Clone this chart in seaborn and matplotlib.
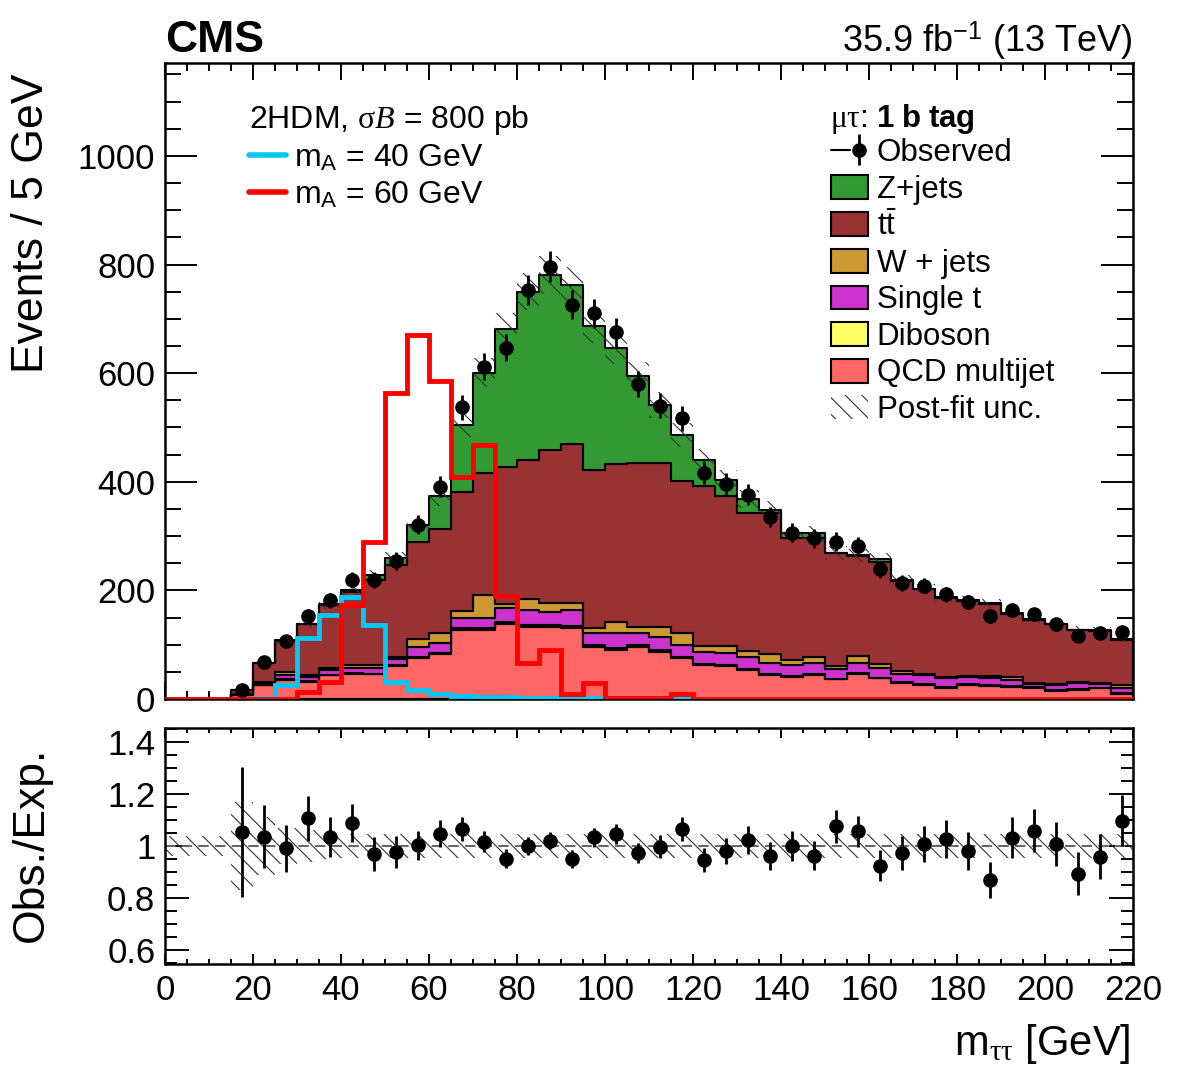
import numpy as np
import pandas as pd
import seaborn as sns
import matplotlib.pyplot as plt
import matplotlib.ticker as ticker
from matplotlib.patches import Patch
from matplotlib.lines import Line2D
from matplotlib.legend_handler import HandlerTuple

# m_tautau binning, 5 GeV bins from 0 to 220
edges = np.arange(0, 225, 5)
centers = edges[:-1] + 2.5

# post-fit backgrounds (events / 5 GeV)
qcd = [0, 0, 0, 8, 25, 35, 32, 44, 47, 46, 60, 75, 83, 127, 128, 138, 133, 133, 130, 96, 91, 96,
       87, 75, 63, 61, 53, 44, 40, 44, 36, 47, 38, 30, 26, 21, 26, 24, 23, 21, 15, 17, 20, 10]
diboson = [0, 0, 0, 0, 1, 1, 1, 1, 1, 1, 2, 2, 2, 3, 3, 4, 4, 4, 4, 3, 3, 3,
           3, 2, 2, 2, 2, 2, 2, 2, 1, 1, 1, 1, 1, 1, 1, 1, 1, 1, 1, 1, 1, 1]
single_t = [0, 0, 0, 1, 3, 9, 7, 9, 10, 11, 11, 19, 19, 20, 19, 25, 27, 24, 30, 22, 27, 23,
            24, 22, 22, 21, 22, 20, 21, 20, 18, 18, 19, 16, 17, 17, 13, 13, 11, 6, 10, 11, 7, 10]
wjets = [0, 0, 0, 1, 3, 5, 5, 4, 5, 5, 5, 14, 17, 13, 42, 8, 20, 16, 13, 9, 20, 11,
         19, 22, 11, 14, 12, 17, 8, 11, 6, 13, 6, 5, 2, 1, 2, 4, 5, 2, 2, 3, 2, 5]
ttbar = [0, 0, 0, 6, 34, 57, 93, 115, 135, 156, 169, 179, 192, 219, 225, 253, 256, 282, 292, 292, 291, 302,
         302, 281, 294, 275, 254, 259, 225, 220, 208, 185, 188, 166, 156, 146, 139, 133, 117, 116, 110, 95, 96, 83]
zjets = [0, 0, 0, 0, 0, 1, 1, 2, 3, 9, 12, 31, 60, 123, 184, 253, 310, 322, 293, 264, 214, 159,
         106, 84, 48, 30, 25, 7, 9, 8, 0, 1, 6, 1, 1, 1, 1, 1, 1, 1, 1, 1, 1, 1]

# relative post-fit uncertainty
rel_unc = [0.04, 0.04, 0.04, 0.17, 0.11, 0.07, 0.06, 0.05, 0.045, 0.045, 0.045, 0.045, 0.045, 0.045,
           0.045, 0.045, 0.045, 0.045, 0.045, 0.045, 0.045, 0.045, 0.045, 0.045, 0.045, 0.045, 0.045, 0.045,
           0.045, 0.045, 0.045, 0.045, 0.045, 0.045, 0.045, 0.045, 0.045, 0.045, 0.045, 0.045, 0.045, 0.045,
           0.045, 0.045]

# observed
observed = [0, 0, 0, 17, 68, 107, 153, 182, 219, 220, 254, 321, 391, 537, 612, 647, 753, 796, 726, 710, 675, 580,
            540, 517, 417, 396, 376, 336, 306, 296, 290, 282, 239, 214, 209, 193, 179, 153, 164, 156, 138, 116, 121, 124]

# obs / exp
ratio = [np.nan, np.nan, np.nan, 1.053, 1.036, 0.991, 1.107, 1.036, 1.090, 0.969, 0.977, 1.003, 1.047, 1.065,
         1.017, 0.951, 1.0, 1.021, 0.951, 1.034, 1.047, 0.974, 0.997, 1.065, 0.946, 0.981, 1.023, 0.961,
         1.001, 0.963, 1.075, 1.056, 0.924, 0.974, 1.008, 1.028, 0.982, 0.868, 1.032, 1.059, 1.008, 0.894,
         0.959, 1.098]
ratio_err = [np.nan, np.nan, np.nan, 0.25, 0.12, 0.09, 0.087, 0.077, 0.073, 0.066, 0.06, 0.056, 0.052, 0.045,
             0.04, 0.037, 0.036, 0.034, 0.035, 0.036, 0.039, 0.039, 0.045, 0.047, 0.047, 0.05, 0.053, 0.053,
             0.057, 0.056, 0.062, 0.061, 0.06, 0.066, 0.07, 0.073, 0.073, 0.07, 0.08, 0.084, 0.086, 0.082,
             0.086, 0.097]

# 2HDM signals
sig_m40 = [0, 0, 0, 0, 2, 26, 112, 155, 187, 136, 32, 17, 9, 6, 4, 3, 2, 2, 1, 1, 1, 1, 1, 1]
sig_m60 = [0, 0, 0, 0, 0, 0, 13, 32, 173, 290, 563, 670, 586, 409, 468, 190, 66, 91, 9, 29, 1, 1,
           1, 10, 0, 0, 0, 0, 0, 0, 0, 0, 0, 0, 0, 0, 0, 0, 0, 0, 0, 0, 0, 0]

processes = ["Z+jets", r"t$\bar{\mathrm{t}}$", "W + jets", "Single t", "Diboson", "QCD multijet"]
colors = ["#339933", "#993333", "#cc9933", "#cc33cc", "#ffff66", "#ff6666"]

sns.set_style("ticks", {"xtick.direction": "in", "ytick.direction": "in"})
plt.rcParams['font.family'] = ['Liberation Sans', 'DejaVu Sans']
plt.rcParams['mathtext.fontset'] = 'custom'
plt.rcParams['mathtext.rm'] = 'Liberation Sans'
plt.rcParams['mathtext.sf'] = 'Liberation Serif'
plt.rcParams['mathtext.it'] = 'Liberation Serif:italic'
plt.rcParams['mathtext.bf'] = 'Liberation Sans:bold'
plt.rcParams['hatch.color'] = '#333333'
plt.rcParams['hatch.linewidth'] = 0.8
plt.rcParams['axes.linewidth'] = 1.8
for key in ['text.color', 'axes.labelcolor', 'xtick.color', 'ytick.color', 'axes.edgecolor']:
    plt.rcParams[key] = 'black'

df = pd.DataFrame({
    "mass": np.tile(centers, len(processes)),
    "events": np.concatenate([zjets, ttbar, wjets, single_t, diboson, qcd]).astype(float),
    "process": np.repeat(processes, len(centers)),
})
total = np.array(zjets) + np.array(ttbar) + np.array(wjets) + np.array(single_t) + np.array(diboson) + np.array(qcd)
rel_unc = np.array(rel_unc)
observed = np.array(observed, dtype=float)

fig = plt.figure(figsize=(11.82, 10.71), dpi=100)
ax = fig.add_axes([0.1396, 0.3473, 0.8189, 0.5938])
rax = fig.add_axes([0.1396, 0.0999, 0.8189, 0.2204])

sns.histplot(data=df, x="mass", weights="events", hue="process", hue_order=processes,
             palette=dict(zip(processes, colors)), multiple="stack", binwidth=5, binrange=(0, 220),
             element="step", fill=True, alpha=1, edgecolor="black", linewidth=1.5,
             legend=False, ax=ax)

hatch = '\\\\'
ax.stairs(total * (1 + rel_unc), edges, baseline=total * (1 - rel_unc), fill=True,
          facecolor='none', edgecolor='#333333', linewidth=0, hatch=hatch, zorder=3)

ax.stairs(sig_m40, edges[:len(sig_m40) + 1], color="#00c8f5", linewidth=3.5, zorder=4)
ax.stairs(sig_m60, edges, color="#ff0000", linewidth=3.5, zorder=5)

m = observed > 0
eb = ax.errorbar(centers[m], observed[m], yerr=np.sqrt(observed[m]), fmt='o', color='black',
                 ms=9.5, elinewidth=2, capsize=0, zorder=6)

ax.set_xlim(0, 220)
ax.set_ylim(0, 1171)
ax.set_xlabel("")
ax.set_ylabel("Events / 5 GeV", fontsize=32, loc='top', va='baseline')
ax.yaxis.set_label_coords(-0.126, 0.984)
ax.xaxis.set_major_locator(ticker.MultipleLocator(20))
ax.xaxis.set_minor_locator(ticker.MultipleLocator(5))
ax.yaxis.set_major_locator(ticker.MultipleLocator(200))
ax.yaxis.set_minor_locator(ticker.MultipleLocator(50))
ax.tick_params(which='both', direction='in', top=True, right=True, labelbottom=False,
               labelsize=25, width=1.4, pad=7)
ax.tick_params(axis='x', which='major', length=12)
ax.tick_params(axis='x', which='minor', length=6)
ax.tick_params(axis='y', which='major', length=23)
ax.tick_params(axis='y', which='minor', length=11.5)

# ratio panel
rax.stairs(1 + rel_unc, edges, baseline=1 - rel_unc, fill=True, facecolor='none',
           edgecolor='#333333', linewidth=0, hatch=hatch)
rax.axhline(1, color='#666666', linestyle='--', linewidth=1.5, dashes=(5, 3))
rax.errorbar(centers, ratio, yerr=ratio_err, fmt='o', color='black', ms=9.5,
             elinewidth=2, capsize=0, zorder=5)
rax.set_xlim(0, 220)
rax.set_ylim(0.546, 1.454)
rax.xaxis.set_major_locator(ticker.MultipleLocator(20))
rax.xaxis.set_minor_locator(ticker.MultipleLocator(5))
rax.yaxis.set_major_locator(ticker.MultipleLocator(0.2))
rax.yaxis.set_minor_locator(ticker.MultipleLocator(0.05))
rax.yaxis.set_major_formatter(ticker.FormatStrFormatter('%g'))
rax.tick_params(which='both', direction='in', top=True, right=True, labelsize=25, width=1.4, pad=7)
rax.tick_params(axis='x', which='major', length=7)
rax.tick_params(axis='x', which='minor', length=3.5)
rax.tick_params(axis='y', which='major', length=17)
rax.tick_params(axis='y', which='minor', length=8.5)
rax.set_ylabel("Obs./Exp.", fontsize=32, va='baseline')
rax.yaxis.set_label_coords(-0.126, 0.508)
rax.set_xlabel(r"m$_{\mathsf{\tau\tau}}$ [GeV]", fontsize=30, loc='right', va='baseline')
rax.xaxis.set_label_coords(0.997, -0.386)

# legends
sig_handles = [Line2D([], [], color="#00c8f5", linewidth=4), Line2D([], [], color="#ff0000", linewidth=4)]
leg1 = ax.legend(sig_handles, [r"m$_\mathrm{A}$ = 40 GeV", r"m$_\mathrm{A}$ = 60 GeV"],
                 title=r"2HDM, $\mathsf{\sigma}B$ = 800 pb", title_fontsize=23, fontsize=23,
                 loc='upper left', bbox_to_anchor=(0.087, 0.938), frameon=False, alignment='left',
                 borderpad=0, borderaxespad=0, handlelength=1.16, handletextpad=0.25, labelspacing=0.2)
ax.add_artist(leg1)

bkg_handles = [(Line2D([], [], color='black', linewidth=1.5), eb)]
bkg_handles += [Patch(facecolor=c, edgecolor='black', linewidth=1.5) for c in colors]
bkg_handles += [Patch(facecolor='none', edgecolor='#333333', linewidth=0, hatch=hatch)]
bkg_labels = ["Observed"] + processes + ["Post-fit unc."]
ax.legend(bkg_handles, bkg_labels, handler_map={tuple: HandlerTuple(ndivide=None)},
          fontsize=22.5, loc='upper left', bbox_to_anchor=(0.688, 0.882), frameon=False,
          borderpad=0, borderaxespad=0, handlelength=1.2, handleheight=0.8,
          handletextpad=0.26, labelspacing=0.21)
ax.text(0.687, 0.912, r"$\mathsf{\mu\tau}$: $\mathbf{1\ b\ tag}$", fontsize=22.5,
        transform=ax.transAxes, va='center', ha='left')

fig.text(0.1396, 1 - 52 / 1071, "CMS", fontsize=32, fontweight='bold', va='baseline')
fig.text(0.9585, 1 - 52 / 1071, r"35.9 fb$^{-1}$ (13 TeV)", fontsize=26, ha='right', va='baseline')

plt.savefig("out.png", dpi=100)
